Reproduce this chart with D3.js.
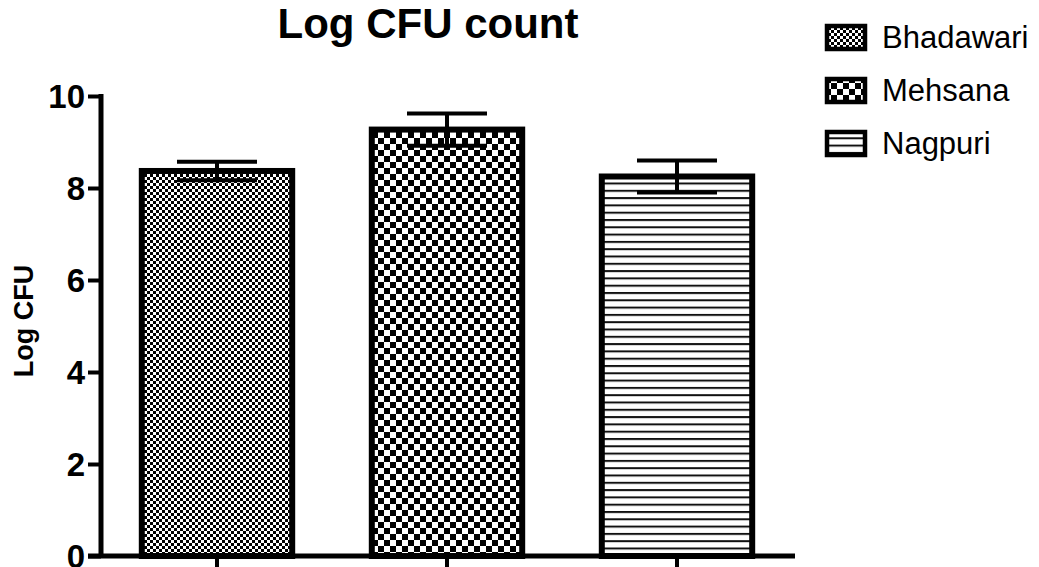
<!DOCTYPE html>
<html>
<head>
<meta charset="utf-8">
<script src="https://cdn.jsdelivr.net/npm/d3@7"></script>
<style>
  body { margin: 0; background: #fff; }
  text { font-family: Arial, "Liberation Sans", Helvetica, sans-serif; }
</style>
</head>
<body>
<svg width="1039" height="567"></svg>
<script>
const groups = ["Bhadawari", "Mehsana", "Nagpuri"];
const means = [8.37, 9.27, 8.25];
const errs = [0.2, 0.35, 0.35];
const yTicks = [0, 2, 4, 6, 8, 10];
const patternIds = ["pBha", "pMeh", "pNag"];

const svg = d3.select("svg");
const defs = svg.append("defs");

// fine checker
const p1 = defs.append("pattern").attr("id", "pBha").attr("patternUnits", "userSpaceOnUse")
  .attr("width", 6).attr("height", 6);
p1.append("rect").attr("width", 6).attr("height", 6).attr("fill", "#fff");
p1.append("rect").attr("width", 3).attr("height", 3).attr("fill", "#000");
p1.append("rect").attr("x", 3).attr("y", 3).attr("width", 3).attr("height", 3).attr("fill", "#000");

// coarse checker
const p2 = defs.append("pattern").attr("id", "pMeh").attr("patternUnits", "userSpaceOnUse")
  .attr("width", 12).attr("height", 12);
p2.append("rect").attr("width", 12).attr("height", 12).attr("fill", "#fff");
p2.append("rect").attr("width", 6).attr("height", 6).attr("fill", "#000");
p2.append("rect").attr("x", 6).attr("y", 6).attr("width", 6).attr("height", 6).attr("fill", "#000");

// horizontal lines
const p3 = defs.append("pattern").attr("id", "pNag").attr("patternUnits", "userSpaceOnUse")
  .attr("width", 8).attr("height", 7.3);
p3.append("rect").attr("width", 8).attr("height", 7.3).attr("fill", "#fff");
p3.append("rect").attr("y", 0).attr("width", 8).attr("height", 2).attr("fill", "#111");

const x = d3.scaleBand().domain(groups).range([102, 792])
  .paddingInner(0.32).paddingOuter(0.16);
const y = d3.scaleLinear().domain([0, 10]).range([556, 96]);

const data = groups.map((g, i) => ({ g: g, m: means[i], e: errs[i], pat: patternIds[i] }));

// bars
svg.append("g").selectAll("rect")
  .data(data).enter().append("rect")
    .attr("x", (d) => x(d.g) + 3)
    .attr("y", (d) => y(d.m))
    .attr("width", x.bandwidth() - 6)
    .attr("height", (d) => y(0) - y(d.m))
    .attr("fill", (d) => `url(#${d.pat})`)
    .attr("stroke", "#000")
    .attr("stroke-width", 6);

// error bars
const eb = svg.append("g").attr("stroke", "#000").attr("stroke-width", 4);
data.forEach((d) => {
  const cx = x(d.g) + x.bandwidth() / 2;
  eb.append("line").attr("x1", cx).attr("x2", cx)
    .attr("y1", y(d.m + d.e)).attr("y2", y(d.m - d.e));
  [d.m + d.e, d.m - d.e].forEach((v) => {
    eb.append("line").attr("x1", cx - 40).attr("x2", cx + 40)
      .attr("y1", y(v)).attr("y2", y(v));
  });
});

// y axis
const yAxis = svg.append("g").attr("transform", "translate(101,0)")
  .call(d3.axisLeft(y).tickValues(yTicks).tickSize(13).tickSizeOuter(0).tickPadding(3));
yAxis.select(".domain").attr("stroke-width", 5).attr("d", `M0,${y(10) - 2}V${y(0)}`);
yAxis.selectAll(".tick line").attr("stroke-width", 4);
yAxis.selectAll(".tick text").attr("font-size", 33).attr("font-weight", "bold")
  .attr("fill", "#000").attr("dy", "0.34em")
  .attr("font-family", "Arial, 'Liberation Sans', sans-serif");

// x axis
const xAxis = svg.append("g").attr("transform", `translate(0,${y(0)})`)
  .call(d3.axisBottom(x).tickSize(12).tickSizeOuter(0).tickFormat(""));
xAxis.select(".domain").attr("stroke-width", 5).attr("d", "M88,0H795");
xAxis.selectAll(".tick line").attr("stroke-width", 4);

// title
svg.append("text").attr("x", 428).attr("y", 38).attr("text-anchor", "middle")
  .attr("font-size", 42).attr("font-weight", "bold").text("Log CFU count");

// y label
svg.append("text").attr("transform", `translate(33,${(y(0) + y(10)) / 2 - 5}) rotate(-90)`)
  .attr("text-anchor", "middle").attr("font-size", 27).attr("font-weight", "bold")
  .text("Log CFU");

// legend
const lg = svg.append("g").attr("transform", "translate(825,24)");
data.forEach((d, i) => {
  const row = lg.append("g").attr("transform", `translate(0,${i * 53})`);
  row.append("rect").attr("x", 2).attr("y", 2).attr("width", 38).attr("height", 23)
    .attr("fill", `url(#${d.pat})`).attr("stroke", "#000").attr("stroke-width", 4.5);
  row.append("text").attr("x", 57).attr("y", 24).attr("font-size", 31).text(d.g);
});
</script>
</body>
</html>
